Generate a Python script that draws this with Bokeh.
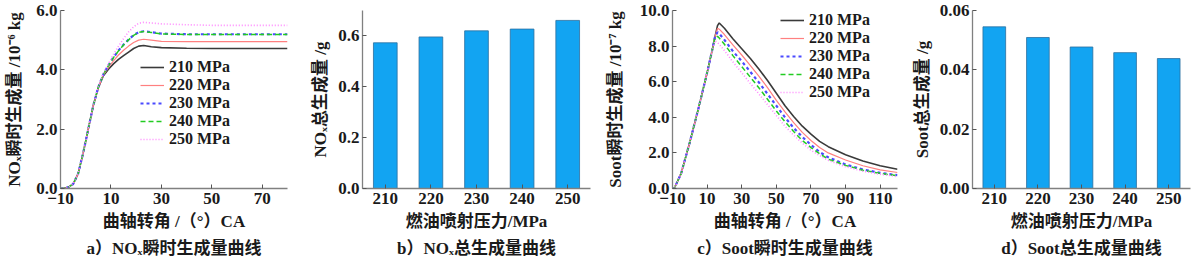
from bokeh.plotting import figure
from bokeh.layouts import row
from bokeh.models import (FixedTicker, PrintfTickFormatter, Legend, LegendItem,
                          Title, FactorRange, ColumnDataSource)
from bokeh.embed import file_html
from bokeh.resources import INLINE

# ---------------- data ----------------
series_names = ["210 MPa", "220 MPa", "230 MPa", "240 MPa", "250 MPa"]

# (a) NOx instantaneous formation, 10^-6 kg
nox_x = [-10, -9, -7, -5, -3, -1, 1, 3, 5, 7, 9, 11, 13, 15, 17, 19, 21, 23, 26, 30, 40, 50, 60, 70, 80]
nox_210 = [0, 0, 0.04, 0.15, 0.5, 1.2, 2.0, 2.8, 3.4, 3.8, 4.02, 4.2, 4.35, 4.48, 4.6, 4.72, 4.8, 4.82, 4.78, 4.75, 4.73, 4.72, 4.72, 4.72, 4.72]
nox_220 = [0, 0, 0.04, 0.15, 0.5, 1.2, 2.0, 2.8, 3.4, 3.82, 4.08, 4.3, 4.5, 4.66, 4.8, 4.92, 5.0, 5.03, 5.0, 4.96, 4.95, 4.95, 4.95, 4.95, 4.95]
nox_230 = [0, 0, 0.04, 0.15, 0.5, 1.2, 2.0, 2.8, 3.42, 3.85, 4.15, 4.42, 4.65, 4.85, 5.02, 5.17, 5.27, 5.3, 5.27, 5.22, 5.2, 5.2, 5.2, 5.2, 5.2]
nox_240 = [0, 0, 0.04, 0.15, 0.5, 1.2, 2.0, 2.8, 3.42, 3.85, 4.14, 4.41, 4.64, 4.84, 5.01, 5.16, 5.26, 5.29, 5.26, 5.21, 5.19, 5.19, 5.19, 5.19, 5.19]
nox_250 = [0, 0, 0.04, 0.15, 0.5, 1.2, 2.0, 2.8, 3.44, 3.88, 4.2, 4.52, 4.8, 5.05, 5.28, 5.45, 5.57, 5.6, 5.58, 5.55, 5.52, 5.5, 5.5, 5.5, 5.5]

# (b) NOx total, g
pressures = ["210", "220", "230", "240", "250"]
nox_total = [0.573, 0.596, 0.620, 0.627, 0.661]

# (c) Soot instantaneous formation, 10^-7 kg
soot_x = [-10, -9, -5, 0, 5, 10, 13, 14.5, 16, 17, 20, 25, 30, 35, 40, 45, 50, 55, 60, 65, 70, 75, 80, 90, 100, 110, 120]
soot_210 = [0, 0, 0.85, 2.6, 4.5, 6.5, 7.8, 8.5, 9.15, 9.3, 9.0, 8.4, 7.85, 7.3, 6.7, 6.05, 5.35, 4.65, 4.05, 3.5, 3.05, 2.65, 2.35, 1.9, 1.55, 1.28, 1.08]
soot_220 = [0, 0, 0.85, 2.6, 4.5, 6.5, 7.8, 8.5, 9.0, 8.95, 8.65, 8.05, 7.5, 6.9, 6.3, 5.65, 4.95, 4.3, 3.7, 3.15, 2.7, 2.3, 2.0, 1.6, 1.28, 1.05, 0.9]
soot_230 = [0, 0, 0.85, 2.6, 4.5, 6.5, 7.8, 8.5, 8.78, 8.7, 8.35, 7.7, 7.15, 6.55, 5.95, 5.3, 4.65, 4.0, 3.4, 2.9, 2.45, 2.05, 1.75, 1.35, 1.07, 0.88, 0.75]
soot_240 = [0, 0, 0.85, 2.6, 4.5, 6.5, 7.8, 8.45, 8.55, 8.45, 8.1, 7.45, 6.85, 6.25, 5.65, 5.0, 4.35, 3.75, 3.2, 2.7, 2.3, 1.95, 1.65, 1.3, 1.03, 0.85, 0.72]
soot_250 = [0, 0, 0.85, 2.6, 4.5, 6.5, 7.8, 8.3, 8.2, 8.1, 7.75, 7.1, 6.5, 5.9, 5.3, 4.7, 4.1, 3.5, 3.0, 2.55, 2.15, 1.85, 1.58, 1.22, 0.97, 0.8, 0.67]

# (d) Soot total, g
soot_total = [0.0545, 0.0509, 0.0477, 0.0458, 0.0438]

# ---------------- styles ----------------
FONT = "Liberation Serif, Noto Sans CJK SC"
TXT = "#1a1a1a"
FS = "17px"
line_styles = [
    dict(color="#3a3a3a", line_dash="solid", line_width=1.6),
    dict(color="#ff8080", line_dash="solid", line_width=1.2),
    dict(color="#4a4aff", line_dash="3 3", line_width=2.2),
    dict(color="#22cc22", line_dash="5 3", line_width=1.5),
    dict(color="#ff88ff", line_dash="1 2", line_width=1.6),
]
BAR_FILL = "#12a4f2"
BAR_LINE = "#2b6e9e"


def make_fig(left, right, x_range, y_range):
    p = figure(width=300, height=264, x_range=x_range, y_range=y_range,
               output_backend="svg", toolbar_location=None,
               min_border_left=left, min_border_right=right,
               min_border_top=10, min_border_bottom=76)
    p.outline_line_color = None
    p.xgrid.visible = False
    p.ygrid.visible = False
    p.background_fill_color = "white"
    return p


def style_axes(p, xlabel, ylabel, ylabel_standoff, caption):
    for ax in p.axis:
        ax.axis_line_color = "#808080"
        ax.axis_line_width = 1.3
        ax.major_tick_in = 4
        ax.major_tick_out = 0
        ax.major_tick_line_color = "#555555"
        ax.minor_tick_line_color = None
        ax.major_label_text_font = FONT
        ax.major_label_text_font_size = FS
        ax.major_label_text_font_style = "bold"
        ax.major_label_text_color = TXT
        ax.axis_label_text_font = FONT
        ax.axis_label_text_font_size = FS
        ax.axis_label_text_font_style = "bold"
        ax.axis_label_text_color = TXT
        ax.major_label_standoff = 3
    p.xaxis.major_label_standoff = 4
    p.xaxis.axis_label = xlabel
    p.xaxis.axis_label_standoff = 5
    p.yaxis.axis_label = ylabel
    p.yaxis.axis_label_standoff = ylabel_standoff
    t = Title(text=caption, align="center", text_font=FONT, text_font_size=FS,
              text_font_style="bold", text_color=TXT, standoff=6)
    p.add_layout(t, "below")


def add_legend(p, renderers, loc):
    items = [LegendItem(label=n, renderers=[r]) for n, r in zip(series_names, renderers)]
    lg = Legend(items=items, location=loc, background_fill_alpha=0,
                border_line_color=None, padding=0, margin=0, spacing=0,
                glyph_width=24, glyph_height=14, label_height=14, label_standoff=5,
                label_text_font=FONT, label_text_font_size="16px",
                label_text_font_style="bold", label_text_color=TXT)
    p.add_layout(lg)


# (a)
pa = make_fig(60, 13, (-10, 80), (0, 6))
ra = []
for ys, st in zip([nox_210, nox_220, nox_230, nox_240, nox_250], line_styles):
    ra.append(pa.line(nox_x, ys, **st))
pa.xaxis.ticker = FixedTicker(ticks=[-10, 10, 30, 50, 70])
pa.yaxis.ticker = FixedTicker(ticks=[0, 2, 4, 6])
pa.yaxis.formatter = PrintfTickFormatter(format="%.1f")
style_axes(pa, "曲轴转角 /（°）CA", "NOₓ瞬时生成量 /10⁻⁶ kg", 9, "a）NOₓ瞬时生成量曲线")
add_legend(pa, ra, (80, 40))

# (b)
pb = make_fig(62, 10, FactorRange(factors=pressures, range_padding=0), (0, 0.7))
src_b = ColumnDataSource(dict(x=pressures, y=nox_total))
pb.vbar(x="x", top="y", width=0.52, source=src_b, fill_color=BAR_FILL,
        line_color=BAR_LINE, line_width=0.8)
pb.yaxis.ticker = FixedTicker(ticks=[0, 0.2, 0.4, 0.6])
pb.yaxis.formatter = PrintfTickFormatter(format="%.1f")
style_axes(pb, "燃油喷射压力/MPa", "NOₓ总生成量 /g", 5, "b）NOₓ总生成量曲线")

# (c)
pc = make_fig(72, 3, (-10, 120), (0, 10))
rc = []
for ys, st in zip([soot_210, soot_220, soot_230, soot_240, soot_250], line_styles):
    rc.append(pc.line(soot_x, ys, **st))
pc.xaxis.ticker = FixedTicker(ticks=[-10, 10, 30, 50, 70, 90, 110])
pc.yaxis.ticker = FixedTicker(ticks=[0, 2, 4, 6, 8, 10])
pc.yaxis.formatter = PrintfTickFormatter(format="%.1f")
style_axes(pc, "曲轴转角 /（°）CA", "Soot瞬时生成量 /10⁻⁷ kg", 12, "c）Soot瞬时生成量曲线")
add_legend(pc, rc, (108, 87))

# (d)
pd_ = make_fig(72, 10, FactorRange(factors=pressures, range_padding=0), (0, 0.06))
src_d = ColumnDataSource(dict(x=pressures, y=soot_total))
pd_.vbar(x="x", top="y", width=0.52, source=src_d, fill_color=BAR_FILL,
         line_color=BAR_LINE, line_width=0.8)
pd_.yaxis.ticker = FixedTicker(ticks=[0, 0.02, 0.04, 0.06])
pd_.yaxis.formatter = PrintfTickFormatter(format="%.2f")
style_axes(pd_, "燃油喷射压力/MPa", "Soot总生成量 /g", 5, "d）Soot总生成量曲线")

layout = row(pa, pb, pc, pd_)
open("out.html", "w").write(file_html(layout, INLINE))
